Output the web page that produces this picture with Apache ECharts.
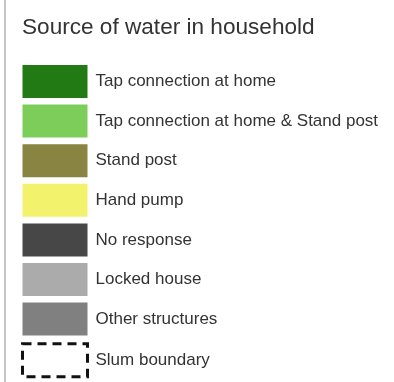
<!DOCTYPE html>
<html>
<head>
<meta charset="utf-8">
<script src="https://cdn.jsdelivr.net/npm/echarts@6/dist/echarts.min.js"></script>
<style>html,body{margin:0;padding:0;background:#fff}#c{width:394px;height:382px}</style>
</head>
<body>
<div id="c"></div>
<script>
const titleText = "Source of water in household";
const categories = [
  "Tap connection at home",
  "Tap connection at home & Stand post",
  "Stand post",
  "Hand pump",
  "No response",
  "Locked house",
  "Other structures",
  "Slum boundary"
];
const colors = ["#217a14", "#7dcd5b", "#8a8442", "#f3f26c", "#474747", "#ababab", "#808080", "transparent"];
const values = [[], [], [], [], [], [], [], []];

const FONT = '"Liberation Sans", Arial, sans-serif';
const chart = echarts.init(document.getElementById('c'), null, {renderer: 'canvas'});

const legendData = categories.map((name, i) => {
  const isBoundary = name === "Slum boundary";
  return {
    name: name,
    icon: 'rect',
    itemStyle: isBoundary
      ? {color: 'rgba(0,0,0,0)', borderColor: '#111', borderWidth: 3, borderType: [9, 6]}
      : {color: colors[i], borderWidth: 0}
  };
});

chart.setOption({
  animation: false,
  backgroundColor: '#fff',
  title: {
    text: titleText,
    left: 22, top: 16, padding: 0,
    textStyle: {fontFamily: FONT, fontSize: 22.6, fontWeight: 'normal', color: '#333'}
  },
  legend: {
    orient: 'vertical',
    left: 21, top: 65, padding: 0,
    itemWidth: 65, itemHeight: 33, itemGap: 6.6,
    selectedMode: false,
    data: legendData,
    textStyle: {fontFamily: FONT, fontSize: 17, color: '#333', padding: [0, 0, 0, 3]}
  },
  grid: {left: -100, top: -100, width: 10, height: 10},
  xAxis: {type: 'category', show: false, data: []},
  yAxis: {type: 'value', show: false},
  graphic: [{
    type: 'rect', left: 4, top: 0, silent: true,
    shape: {width: 2, height: 382}, style: {fill: '#c4c4c4'}
  }],
  series: categories.map((name, i) => ({
    name: name, type: 'bar', data: values[i],
    itemStyle: {color: colors[i]}
  }))
});
</script>
</body>
</html>
